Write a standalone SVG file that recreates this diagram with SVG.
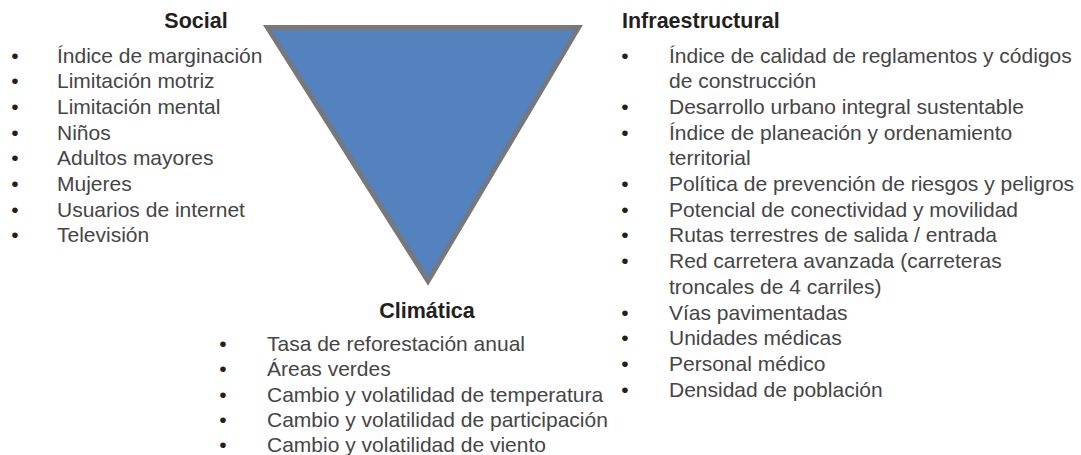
<svg xmlns="http://www.w3.org/2000/svg" width="1081" height="455" viewBox="0 0 1081 455">
<style>
.h{font-family:"Liberation Sans",Arial,sans-serif;font-weight:bold;font-size:21.5px;fill:#231f20}
.t{font-family:"Liberation Sans",Arial,sans-serif;font-size:21px;fill:#454545}
.b{font-family:"Liberation Sans",Arial,sans-serif;font-size:21px;fill:#231f20;text-anchor:middle}
</style>
<rect width="1081" height="455" fill="#ffffff"/>
<g id="triangle">
<polygon points="267.5,27.5 578.5,27.5 428,281" fill="#5482bf" stroke="#76787b" stroke-width="5" stroke-linejoin="miter"/>
</g>
<g id="social">
<text class="h" x="196" y="27.5" text-anchor="middle">Social</text>
<text class="b" x="15" y="62.5">•</text><text class="t" x="57" y="62.5">Índice de marginación</text>
<text class="b" x="15" y="88.2">•</text><text class="t" x="57" y="88.2">Limitación motriz</text>
<text class="b" x="15" y="113.9">•</text><text class="t" x="57" y="113.9">Limitación mental</text>
<text class="b" x="15" y="139.6">•</text><text class="t" x="57" y="139.6">Niños</text>
<text class="b" x="15" y="165.3">•</text><text class="t" x="57" y="165.3">Adultos mayores</text>
<text class="b" x="15" y="191">•</text><text class="t" x="57" y="191">Mujeres</text>
<text class="b" x="15" y="216.7">•</text><text class="t" x="57" y="216.7">Usuarios de internet</text>
<text class="b" x="15" y="242.4">•</text><text class="t" x="57" y="242.4">Televisión</text>
</g>
<g id="infraestructural">
<text class="h" x="622" y="27.5">Infraestructural</text>
<text class="b" x="625" y="62.5">•</text><text class="t" x="669" y="62.5">Índice de calidad de reglamentos y códigos</text>
<text class="t" x="669" y="88.2">de construcción</text>
<text class="b" x="625" y="113.9">•</text><text class="t" x="669" y="113.9">Desarrollo urbano integral sustentable</text>
<text class="b" x="625" y="139.6">•</text><text class="t" x="669" y="139.6">Índice de planeación y ordenamiento</text>
<text class="t" x="669" y="165.3">territorial</text>
<text class="b" x="625" y="191">•</text><text class="t" x="669" y="191">Política de prevención de riesgos y peligros</text>
<text class="b" x="625" y="216.7">•</text><text class="t" x="669" y="216.7">Potencial de conectividad y movilidad</text>
<text class="b" x="625" y="242.4">•</text><text class="t" x="669" y="242.4">Rutas terrestres de salida / entrada</text>
<text class="b" x="625" y="268.1">•</text><text class="t" x="669" y="268.1">Red carretera avanzada (carreteras</text>
<text class="t" x="669" y="293.8">troncales de 4 carriles)</text>
<text class="b" x="625" y="319.5">•</text><text class="t" x="669" y="319.5">Vías pavimentadas</text>
<text class="b" x="625" y="345.2">•</text><text class="t" x="669" y="345.2">Unidades médicas</text>
<text class="b" x="625" y="370.9">•</text><text class="t" x="669" y="370.9">Personal médico</text>
<text class="b" x="625" y="396.6">•</text><text class="t" x="669" y="396.6">Densidad de población</text>
</g>
<g id="climatica">
<text class="h" x="427" y="318" text-anchor="middle">Climática</text>
<text class="b" x="223" y="351">•</text><text class="t" x="267" y="351">Tasa de reforestación anual</text>
<text class="b" x="223" y="376.3">•</text><text class="t" x="267" y="376.3">Áreas verdes</text>
<text class="b" x="223" y="401.6">•</text><text class="t" x="267" y="401.6">Cambio y volatilidad de temperatura</text>
<text class="b" x="223" y="426.9">•</text><text class="t" x="267" y="426.9">Cambio y volatilidad de participación</text>
<text class="b" x="223" y="452.2">•</text><text class="t" x="267" y="452.2">Cambio y volatilidad de viento</text>
</g>
<g id="connectors"></g>
</svg>
